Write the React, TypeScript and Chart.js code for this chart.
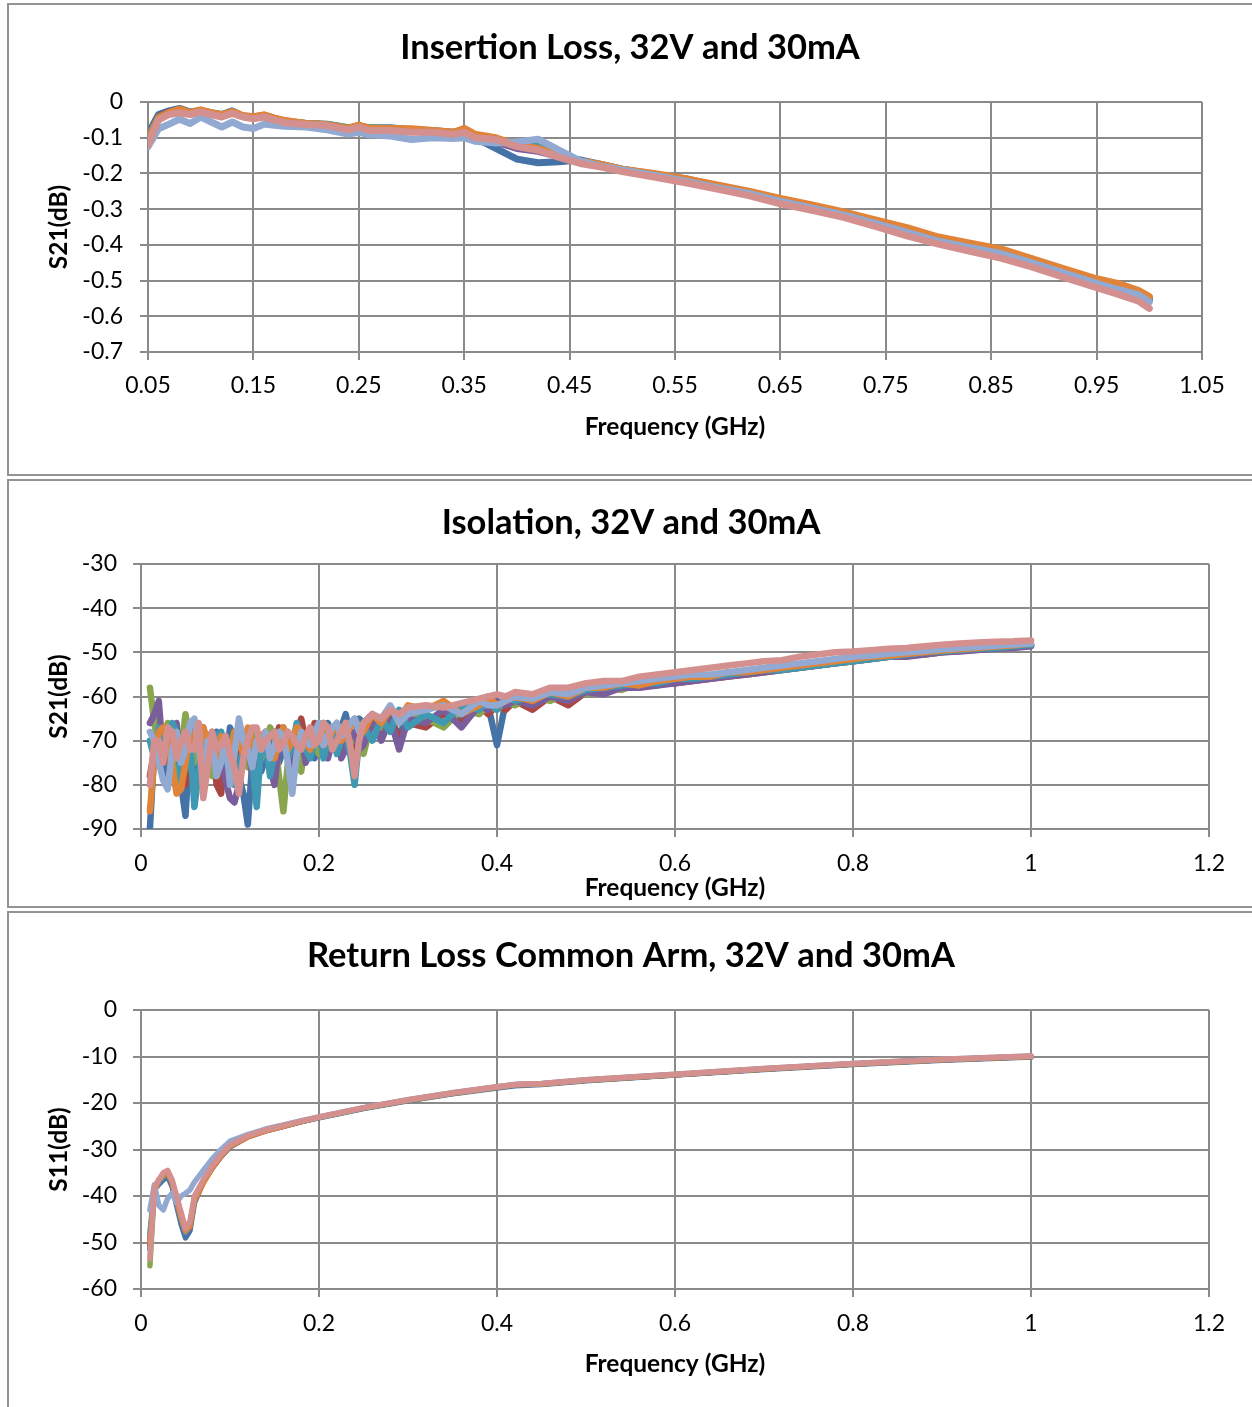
import React, { useEffect, useRef } from "react";
import { Chart, registerables } from "chart.js";

Chart.register(...registerables);

// ---------------- shared ----------------
const FONT_FAMILY = "Lato, 'Open Sans', 'DejaVu Sans', sans-serif";
const SERIES_LABELS = ["Unit 1", "Unit 2", "Unit 3", "Unit 4", "Unit 5", "Unit 6", "Unit 7", "Unit 8"];
const SERIES_COLORS = ["#4572A7", "#AA4643", "#89A54E", "#7A5E9C", "#3F99B3", "#E0843A", "#92A9D1", "#D4908E"];

// ---------------- chart 1: Insertion Loss ----------------
const IL_TITLE = "Insertion Loss, 32V and 30mA";
const IL_Y_TITLE = "S21(dB)";
const IL_X_TITLE = "Frequency (GHz)";
const IL_X_TICKS = [0.05, 0.15, 0.25, 0.35, 0.45, 0.55, 0.65, 0.75, 0.85, 0.95, 1.05];
const IL_X_LABELS = ["0.05", "0.15", "0.25", "0.35", "0.45", "0.55", "0.65", "0.75", "0.85", "0.95", "1.05"];
const IL_Y_TICKS = [-0.7, -0.6, -0.5, -0.4, -0.3, -0.2, -0.1, 0];
const IL_Y_LABELS = ["-0.7", "-0.6", "-0.5", "-0.4", "-0.3", "-0.2", "-0.1", "0"];
const IL_FREQ = [
  0.05, 0.06, 0.07, 0.08, 0.09, 0.1, 0.11, 0.12, 0.13, 0.14, 0.15, 0.16, 0.17, 0.18,
  0.2, 0.22, 0.24, 0.25, 0.26, 0.28, 0.3, 0.32, 0.34, 0.35, 0.36, 0.38,
  0.4, 0.42, 0.44, 0.46, 0.48, 0.5,
  0.53, 0.56, 0.59, 0.62, 0.65, 0.68, 0.71, 0.74, 0.77, 0.8, 0.83, 0.86, 0.89, 0.92, 0.95,
  0.97, 0.99, 1.0,
];
const IL_S1 = [
  -0.09, -0.035, -0.025, -0.018, -0.028, -0.024, -0.03, -0.035, -0.025, -0.04, -0.042, -0.04, -0.05, -0.055,
  -0.06, -0.062, -0.072, -0.068, -0.072, -0.072, -0.078, -0.08, -0.085, -0.08, -0.1, -0.13,
  -0.16, -0.17, -0.167, -0.162, -0.175, -0.188,
  -0.202, -0.215, -0.234, -0.252, -0.272, -0.29, -0.31, -0.334, -0.357, -0.382, -0.4, -0.417, -0.444, -0.472, -0.498,
  -0.515, -0.532, -0.55,
];
const IL_S2 = [
  -0.1, -0.04, -0.028, -0.022, -0.03, -0.024, -0.032, -0.038, -0.028, -0.04, -0.043, -0.038, -0.047, -0.054,
  -0.061, -0.064, -0.074, -0.067, -0.074, -0.075, -0.078, -0.082, -0.086, -0.078, -0.095, -0.11,
  -0.125, -0.135, -0.152, -0.168, -0.178, -0.19,
  -0.203, -0.218, -0.236, -0.254, -0.274, -0.293, -0.313, -0.337, -0.36, -0.385, -0.403, -0.42, -0.447, -0.475, -0.502,
  -0.52, -0.535, -0.552,
];
const IL_S3 = [
  -0.098, -0.042, -0.03, -0.021, -0.031, -0.025, -0.031, -0.037, -0.028, -0.039, -0.042, -0.037, -0.046, -0.053,
  -0.06, -0.063, -0.073, -0.066, -0.073, -0.074, -0.077, -0.081, -0.085, -0.077, -0.094, -0.108,
  -0.122, -0.128, -0.15, -0.166, -0.176, -0.189,
  -0.202, -0.217, -0.235, -0.253, -0.273, -0.292, -0.312, -0.335, -0.358, -0.383, -0.401, -0.418, -0.445, -0.473, -0.5,
  -0.516, -0.533, -0.55,
];
const IL_S4 = [
  -0.1, -0.043, -0.03, -0.023, -0.032, -0.026, -0.033, -0.038, -0.029, -0.04, -0.044, -0.039, -0.047, -0.055,
  -0.062, -0.065, -0.075, -0.068, -0.075, -0.076, -0.079, -0.083, -0.087, -0.08, -0.096, -0.112,
  -0.13, -0.138, -0.153, -0.168, -0.178, -0.191,
  -0.204, -0.219, -0.237, -0.255, -0.275, -0.294, -0.314, -0.338, -0.362, -0.386, -0.404, -0.422, -0.448, -0.477, -0.503,
  -0.52, -0.537, -0.554,
];
const IL_S5 = [
  -0.1, -0.044, -0.031, -0.022, -0.031, -0.025, -0.032, -0.037, -0.028, -0.039, -0.043, -0.038, -0.046, -0.054,
  -0.061, -0.064, -0.074, -0.067, -0.074, -0.075, -0.078, -0.082, -0.086, -0.079, -0.096, -0.11,
  -0.12, -0.12, -0.148, -0.166, -0.177, -0.19,
  -0.203, -0.218, -0.236, -0.254, -0.274, -0.293, -0.313, -0.336, -0.36, -0.384, -0.402, -0.42, -0.446, -0.475, -0.501,
  -0.518, -0.535, -0.552,
];
const IL_S6 = [
  -0.105, -0.045, -0.03, -0.02, -0.03, -0.022, -0.03, -0.036, -0.027, -0.038, -0.041, -0.036, -0.045, -0.052,
  -0.06, -0.064, -0.074, -0.065, -0.074, -0.074, -0.075, -0.08, -0.085, -0.074, -0.09, -0.1,
  -0.12, -0.13, -0.15, -0.165, -0.175, -0.188,
  -0.2, -0.215, -0.232, -0.25, -0.27, -0.288, -0.308, -0.33, -0.352, -0.378, -0.395, -0.412, -0.44, -0.468, -0.495,
  -0.508, -0.528, -0.545,
];
const IL_S7 = [
  -0.125, -0.075, -0.062, -0.048, -0.06, -0.042, -0.056, -0.07, -0.056, -0.07, -0.074, -0.062, -0.065, -0.068,
  -0.07, -0.078, -0.09, -0.085, -0.092, -0.095, -0.105, -0.1, -0.102, -0.1, -0.11, -0.115,
  -0.112, -0.104, -0.135, -0.165, -0.18, -0.19,
  -0.205, -0.222, -0.24, -0.256, -0.278, -0.297, -0.316, -0.34, -0.365, -0.39, -0.408, -0.425, -0.452, -0.48, -0.508,
  -0.525, -0.54, -0.56,
];
const IL_S8 = [
  -0.12, -0.05, -0.035, -0.03, -0.035, -0.028, -0.035, -0.042, -0.032, -0.042, -0.047, -0.042, -0.05, -0.058,
  -0.063, -0.066, -0.078, -0.07, -0.08, -0.08, -0.085, -0.085, -0.09, -0.085, -0.1, -0.105,
  -0.125, -0.135, -0.155, -0.172, -0.182, -0.195,
  -0.21, -0.226, -0.244, -0.262, -0.285, -0.303, -0.323, -0.348, -0.375, -0.398, -0.418, -0.438, -0.463, -0.492, -0.52,
  -0.538, -0.558, -0.578,
];

// ---------------- chart 2: Isolation ----------------
const ISO_TITLE = "Isolation, 32V and 30mA";
const ISO_Y_TITLE = "S21(dB)";
const ISO_X_TITLE = "Frequency (GHz)";
const ISO_X_TICKS = [0, 0.2, 0.4, 0.6, 0.8, 1, 1.2];
const ISO_X_LABELS = ["0", "0.2", "0.4", "0.6", "0.8", "1", "1.2"];
const ISO_Y_TICKS = [-90, -80, -70, -60, -50, -40, -30];
const ISO_Y_LABELS = ["-90", "-80", "-70", "-60", "-50", "-40", "-30"];
const ISO_FREQ = [
  0.01, 0.015, 0.02, 0.025, 0.03, 0.035, 0.04, 0.045, 0.05, 0.055,
  0.06, 0.065, 0.07, 0.075, 0.08, 0.085, 0.09, 0.095, 0.1, 0.105,
  0.11, 0.115, 0.12, 0.125, 0.13, 0.135, 0.14, 0.145, 0.15, 0.155,
  0.16, 0.165, 0.17, 0.175, 0.18, 0.185, 0.19, 0.195, 0.2, 0.205,
  0.21, 0.215, 0.22, 0.225, 0.23, 0.235, 0.24, 0.245, 0.25,
  0.26, 0.27, 0.28, 0.29, 0.3,
  0.32, 0.34, 0.36, 0.38, 0.39, 0.4, 0.41,
  0.42, 0.44, 0.46, 0.48, 0.5, 0.52, 0.54, 0.56, 0.58, 0.6, 0.62, 0.64, 0.66, 0.68, 0.7,
  0.72, 0.74, 0.76, 0.78, 0.8, 0.82, 0.84, 0.86, 0.88, 0.9, 0.92, 0.94, 0.96, 0.98, 1.0,
];
const ISO_S1 = [
  -90, -72, -66, -78, -70, -68, -76, -80, -87, -70,
  -72, -78, -68, -72, -75, -68, -72, -76, -67, -70,
  -78, -82, -89, -75, -70, -77, -74, -71, -68, -75,
  -72, -68, -70, -73, -74, -70, -68, -74, -71, -69,
  -66, -72, -69, -67, -64, -69, -70, -65, -66,
  -64, -67, -65, -69, -64,
  -66, -63, -65, -61, -62, -71, -61,
  -60, -62, -59, -60, -58, -58.5, -57.5, -57, -56.5, -57, -55.5, -55.5, -55, -54.5, -54,
  -53.5, -53, -52.5, -52, -51.5, -51, -51, -50.5, -50, -49.8, -49.5, -49.2, -49, -48.7, -48.5,
];
const ISO_S2 = [
  -78, -72, -68, -70, -74, -77, -70, -72, -80, -76,
  -73, -69, -67, -75, -70, -80, -82, -70, -72, -78,
  -74, -68, -70, -73, -78, -71, -68, -75, -72, -67,
  -70, -72, -74, -69, -65, -70, -72, -66, -68, -71,
  -70, -69, -67, -73, -71, -68, -75, -70, -68,
  -66, -69, -64, -70, -66,
  -67, -64, -66, -62, -64, -62, -63,
  -61, -63, -60, -62, -59, -59, -58, -58, -57, -57, -56.5, -56, -55.5, -55, -54.5,
  -54, -53.5, -53, -52.5, -52, -51.5, -51, -50.8, -50.5, -50, -49.7, -49.4, -49.1, -48.8, -48.5,
];
const ISO_S3 = [
  -58, -66, -72, -70, -66, -74, -80, -72, -64, -70,
  -75, -68, -70, -74, -78, -72, -68, -77, -72, -68,
  -70, -73, -76, -70, -68, -74, -72, -67, -69, -78,
  -86, -75, -70, -72, -77, -70, -69, -71, -73, -66,
  -68, -72, -71, -68, -66, -69, -70, -68, -73,
  -65, -67, -63, -66, -64,
  -65, -67, -63, -64, -62, -63, -61,
  -62, -60, -61, -59, -59.5, -58, -58.5, -57, -57.5, -56.5, -56, -56, -55, -55, -54.5,
  -54, -53.5, -53, -52.5, -52, -51.5, -51, -50.5, -50.5, -50, -49.5, -49.3, -49, -48.8, -48.4,
];
const ISO_S4 = [
  -66, -64, -61, -74, -69, -70, -66, -78, -73, -69,
  -67, -72, -77, -70, -68, -75, -72, -79, -83, -84,
  -80, -74, -70, -78, -74, -72, -69, -76, -80, -71,
  -70, -73, -76, -70, -68, -75, -72, -69, -70, -72,
  -74, -70, -67, -74, -72, -69, -68, -72, -71,
  -66, -70, -65, -72, -65,
  -66, -63, -67, -62, -63, -61, -62,
  -61, -62, -60, -61, -59, -59.5, -58, -58, -57.5, -57, -56.5, -56, -55.5, -55, -54.5,
  -54, -53.5, -53, -52.5, -52, -51.5, -51, -51, -50.5, -50, -49.8, -49.5, -49.2, -49, -48.6,
];
const ISO_S5 = [
  -70, -74, -67, -69, -72, -66, -68, -79, -76, -70,
  -85, -77, -70, -72, -74, -69, -68, -75, -71, -80,
  -76, -72, -69, -75, -85, -71, -70, -78, -73, -69,
  -67, -74, -71, -66, -69, -72, -74, -70, -66, -74,
  -70, -67, -73, -70, -68, -73, -80, -70, -67,
  -70, -65, -68, -63, -67,
  -64, -66, -62, -63, -61, -63, -60,
  -61, -60, -59.5, -60, -58.5, -58, -57.5, -57, -57, -56, -56, -55.5, -55, -54.5, -54,
  -54, -53.5, -53, -52.5, -52, -51.5, -51, -50.5, -50, -49.8, -49.5, -49.2, -49, -48.6, -48.3,
];
const ISO_S6 = [
  -86, -74, -68, -67, -70, -76, -82, -81, -75, -68,
  -70, -72, -67, -70, -72, -76, -69, -71, -74, -68,
  -70, -73, -67, -71, -72, -69, -68, -73, -74, -70,
  -67, -72, -70, -67, -68, -70, -72, -69, -67, -71,
  -70, -68, -66, -70, -69, -67, -65, -67, -68,
  -64, -66, -63, -65, -62,
  -63, -61, -64, -62, -60, -62, -61,
  -60, -61, -59, -60, -58, -58, -57, -57.5, -56.5, -56, -55.5, -55.5, -54.5, -54.5, -54,
  -53.5, -53, -52.5, -52, -51.5, -51, -50.8, -50.3, -50, -49.6, -49.3, -49, -48.7, -48.4, -48,
];
const ISO_S7 = [
  -68, -70, -75, -79, -81, -72, -68, -75, -72, -66,
  -65, -72, -78, -70, -70, -78, -75, -69, -80, -73,
  -65, -70, -72, -76, -70, -72, -68, -74, -71, -68,
  -69, -75, -82, -73, -68, -70, -71, -68, -66, -71,
  -69, -67, -66, -69, -68, -66, -65, -68, -66,
  -64, -65, -62, -66, -64,
  -63, -62, -64, -61, -62, -62, -61,
  -60, -60.5, -59, -59.5, -58, -57.5, -57, -56.5, -56, -55.5, -55, -55, -54.5, -54, -53.5,
  -53, -52.5, -52, -51.5, -51, -50.7, -50.3, -50, -49.7, -49.3, -49, -48.8, -48.5, -48.2, -48,
];
const ISO_S8 = [
  -80, -70, -70, -75, -67, -68, -74, -70, -68, -72,
  -72, -66, -83, -76, -68, -72, -71, -69, -73, -76,
  -82, -74, -70, -67, -67, -72, -70, -69, -68, -72,
  -71, -68, -69, -71, -72, -69, -67, -71, -70, -66,
  -67, -72, -70, -68, -66, -71, -78, -70, -66,
  -64, -65, -63, -64, -62.5,
  -62, -62.5, -61.5, -60.5, -60, -59.5, -60,
  -59, -59.5, -58, -58, -57, -56.5, -56.5, -55.5, -55, -54.5, -54, -53.5, -53, -52.5, -52,
  -51.8, -51, -50.5, -50, -49.8, -49.5, -49.2, -49, -48.6, -48.3, -48, -47.8, -47.6, -47.5, -47.3,
];

// ---------------- chart 3: Return Loss ----------------
const RL_TITLE = "Return Loss Common Arm, 32V and 30mA";
const RL_Y_TITLE = "S11(dB)";
const RL_X_TITLE = "Frequency (GHz)";
const RL_X_TICKS = [0, 0.2, 0.4, 0.6, 0.8, 1, 1.2];
const RL_X_LABELS = ["0", "0.2", "0.4", "0.6", "0.8", "1", "1.2"];
const RL_Y_TICKS = [-60, -50, -40, -30, -20, -10, 0];
const RL_Y_LABELS = ["-60", "-50", "-40", "-30", "-20", "-10", "0"];
const RL_FREQ = [
  0.01, 0.015, 0.02, 0.025, 0.03, 0.035, 0.04, 0.045, 0.05, 0.055, 0.06,
  0.07, 0.08, 0.09, 0.1, 0.12, 0.14, 0.16, 0.18, 0.2,
  0.25, 0.3, 0.35, 0.4, 0.42, 0.45, 0.5, 0.6, 0.7, 0.8, 0.9, 1.0,
];
const RL_S1 = [-51.5, -38.5, -37.5, -36.5, -35.8, -38, -42, -46, -49, -47.5, -41.5, -37, -34, -31.5, -29.5, -27.3, -26, -25, -24, -23.2, -21.2, -19.5, -18, -16.8, -16.3, -16, -15.2, -14, -12.8, -11.7, -10.8, -10.1];
const RL_S2 = [-50.5, -38.5, -36.8, -35.6, -35, -37, -40.5, -44, -47, -46, -40.8, -36.8, -33.8, -31.2, -29.2, -27.1, -25.9, -24.9, -24, -23.1, -21.1, -19.4, -17.9, -16.6, -16.1, -15.9, -15.1, -13.9, -12.7, -11.6, -10.7, -10];
const RL_S3 = [-55, -38.5, -37, -36, -35.2, -37, -41, -45, -47.5, -46.2, -40.5, -36.8, -33.8, -31.2, -29.2, -27.2, -25.9, -24.9, -24, -23.1, -21.1, -19.4, -17.9, -16.6, -16.1, -15.9, -15.1, -13.9, -12.7, -11.6, -10.7, -10];
const RL_S4 = [-49, -38.8, -37.2, -36, -35.4, -37.4, -41.2, -45.2, -48, -46.8, -41, -37, -34, -31.4, -29.3, -27.2, -26, -25, -24, -23.1, -21.1, -19.4, -17.9, -16.6, -16.1, -15.9, -15.1, -13.9, -12.7, -11.6, -10.7, -10];
const RL_S5 = [-48, -38.6, -37, -35.8, -35.2, -37.2, -41, -45, -47.8, -46.5, -40.8, -36.9, -33.9, -31.3, -29.2, -27.2, -25.9, -24.9, -24, -23.1, -21.1, -19.4, -17.9, -16.6, -16.1, -15.9, -15.1, -13.9, -12.7, -11.6, -10.7, -10];
const RL_S6 = [-50, -39, -36.5, -35.5, -35, -37, -41, -44.5, -47.5, -46.5, -41, -37.2, -34, -31.4, -29.3, -27.3, -26, -25, -24, -23.1, -21.1, -19.4, -17.9, -16.6, -16.1, -15.9, -15.1, -13.9, -12.7, -11.6, -10.7, -10];
const RL_S7 = [-43, -37.6, -42, -43, -40.5, -39.4, -41.5, -40, -39.4, -38.7, -37, -34.5, -32, -30, -28.2, -26.8, -25.6, -24.7, -23.8, -23, -21, -19.3, -17.8, -16.5, -16, -15.8, -15, -13.8, -12.6, -11.5, -10.6, -9.9];
const RL_S8 = [-53.5, -38, -36.5, -35, -34.5, -36.5, -40, -43.5, -47, -45.5, -40, -36.5, -33.5, -31, -29, -27, -25.8, -24.8, -23.9, -23, -21, -19.3, -17.8, -16.5, -16, -15.8, -15, -13.8, -12.6, -11.5, -10.6, -9.9];

// ---------------- layout / style ----------------
const PAGE_W = 1252;
const TICK_LEN = 8;
const GRID_COLOR = "#8a8a8a";
const TITLE_SIZE = 34.5;
const AXIS_TITLE_SIZE = 24.5;
const TICK_SIZE = 23;
const LH = 1.2;

type Spec = {
  top: number;
  height: number;
  area: { left: number; right: number; top: number; bottom: number };
  titleCX: number;
  titleCY: number;
  xTitleCY: number;
  yTitleCX: number;
  xLabelCY: number;
  yLabelRight: number;
  lineWidth: number;
  title: string;
  xTitle: string;
  yTitle: string;
  freq: number[];
  series: number[][];
  xMin: number;
  xMax: number;
  xTicks: number[];
  xLabels: string[];
  yMin: number;
  yMax: number;
  yTicks: number[];
  yLabels: string[];
};

function buildConfig(s: Spec): any {
  const titleLH = TITLE_SIZE * LH;
  const axisLH = AXIS_TITLE_SIZE * LH;
  const tickLH = TICK_SIZE * LH;
  const padRight = PAGE_W - s.area.right;
  const padLeft = 2 * s.titleCX - s.area.right;
  const yAxisWidth = s.area.left - padLeft;
  const xAxisHeight = s.height - s.area.bottom;
  const titlePadTop = s.titleCY - titleLH / 2;
  const titlePadBottom = s.area.top - titlePadTop - titleLH;
  const yTitlePad = s.yTitleCX - padLeft - axisLH / 2;
  const xTitlePad = s.height - axisLH / 2 - s.xTitleCY;
  const xTickPad = s.xLabelCY - s.area.bottom - TICK_LEN - tickLH / 2;
  const yTickPad = s.area.left - TICK_LEN - s.yLabelRight;

  const gridOpts = {
    color: GRID_COLOR,
    lineWidth: 2,
    drawTicks: true,
    tickLength: TICK_LEN,
    tickColor: GRID_COLOR,
    tickWidth: 2,
  };

  return {
    type: "line",
    data: {
      datasets: s.series.map((vals, i) => ({
        label: SERIES_LABELS[i],
        data: s.freq.map((f, j) => ({ x: f, y: vals[j] })),
        borderColor: SERIES_COLORS[i],
        backgroundColor: SERIES_COLORS[i],
        borderWidth: s.lineWidth,
        pointRadius: 0,
        pointHoverRadius: 0,
        tension: 0,
        fill: false,
        borderJoinStyle: "round",
        borderCapStyle: "round",
        order: s.series.length - 1 - i,
      })),
    },
    options: {
      animation: false,
      responsive: false,
      maintainAspectRatio: false,
      events: [],
      layout: { padding: { left: padLeft, right: padRight, top: 0, bottom: 0 } },
      plugins: {
        legend: { display: false },
        tooltip: { enabled: false },
        title: {
          display: true,
          text: s.title,
          color: "#000000",
          font: { family: FONT_FAMILY, size: TITLE_SIZE, weight: "bold", lineHeight: LH },
          padding: { top: titlePadTop, bottom: titlePadBottom },
        },
      },
      scales: {
        x: {
          type: "linear",
          min: s.xMin,
          max: s.xMax,
          afterBuildTicks: (scale: any) => {
            scale.ticks = s.xTicks.map((v) => ({ value: v }));
          },
          afterFit: (scale: any) => {
            scale.height = xAxisHeight;
          },
          ticks: {
            autoSkip: false,
            maxRotation: 0,
            minRotation: 0,
            padding: xTickPad,
            color: "#000000",
            font: { family: FONT_FAMILY, size: TICK_SIZE, lineHeight: LH },
            callback: (_v: any, i: number) => s.xLabels[i],
          },
          grid: gridOpts,
          border: { display: true, color: GRID_COLOR, width: 2 },
          title: {
            display: true,
            text: s.xTitle,
            color: "#000000",
            font: { family: FONT_FAMILY, size: AXIS_TITLE_SIZE, weight: "bold", lineHeight: LH },
            padding: { top: 0, bottom: xTitlePad },
          },
        },
        y: {
          type: "linear",
          min: s.yMin,
          max: s.yMax,
          afterBuildTicks: (scale: any) => {
            scale.ticks = s.yTicks.map((v) => ({ value: v }));
          },
          afterFit: (scale: any) => {
            scale.width = yAxisWidth;
          },
          ticks: {
            autoSkip: false,
            padding: yTickPad,
            color: "#000000",
            font: { family: FONT_FAMILY, size: TICK_SIZE, lineHeight: LH },
            callback: (_v: any, i: number) => s.yLabels[i],
          },
          grid: gridOpts,
          border: { display: true, color: GRID_COLOR, width: 2 },
          title: {
            display: true,
            text: s.yTitle,
            color: "#000000",
            font: { family: FONT_FAMILY, size: AXIS_TITLE_SIZE, weight: "bold", lineHeight: LH },
            padding: { top: yTitlePad, bottom: 0 },
          },
        },
      },
    },
  };
}

const SPECS: Spec[] = [
  {
    top: 0,
    height: 478,
    area: { left: 148, right: 1202, top: 102, bottom: 352 },
    titleCX: 630,
    titleCY: 48,
    xTitleCY: 427,
    yTitleCX: 59,
    xLabelCY: 386,
    yLabelRight: 123,
    lineWidth: 7,
    title: IL_TITLE,
    xTitle: IL_X_TITLE,
    yTitle: IL_Y_TITLE,
    freq: IL_FREQ,
    series: [IL_S1, IL_S2, IL_S3, IL_S4, IL_S5, IL_S6, IL_S7, IL_S8],
    xMin: 0.05,
    xMax: 1.05,
    xTicks: IL_X_TICKS,
    xLabels: IL_X_LABELS,
    yMin: -0.7,
    yMax: 0,
    yTicks: IL_Y_TICKS,
    yLabels: IL_Y_LABELS,
  },
  {
    top: 478,
    height: 432,
    area: { left: 141, right: 1209, top: 86, bottom: 351 },
    titleCX: 631,
    titleCY: 45,
    xTitleCY: 410,
    yTitleCX: 59,
    xLabelCY: 386,
    yLabelRight: 117,
    lineWidth: 6.5,
    title: ISO_TITLE,
    xTitle: ISO_X_TITLE,
    yTitle: ISO_Y_TITLE,
    freq: ISO_FREQ,
    series: [ISO_S1, ISO_S2, ISO_S3, ISO_S4, ISO_S5, ISO_S6, ISO_S7, ISO_S8],
    xMin: 0,
    xMax: 1.2,
    xTicks: ISO_X_TICKS,
    xLabels: ISO_X_LABELS,
    yMin: -90,
    yMax: -30,
    yTicks: ISO_Y_TICKS,
    yLabels: ISO_Y_LABELS,
  },
  {
    top: 909,
    height: 498,
    area: { left: 141, right: 1209, top: 101, bottom: 380 },
    titleCX: 631,
    titleCY: 47,
    xTitleCY: 455,
    yTitleCX: 59,
    xLabelCY: 415,
    yLabelRight: 117,
    lineWidth: 5.5,
    title: RL_TITLE,
    xTitle: RL_X_TITLE,
    yTitle: RL_Y_TITLE,
    freq: RL_FREQ,
    series: [RL_S1, RL_S2, RL_S3, RL_S4, RL_S5, RL_S6, RL_S7, RL_S8],
    xMin: 0,
    xMax: 1.2,
    xTicks: RL_X_TICKS,
    xLabels: RL_X_LABELS,
    yMin: -60,
    yMax: 0,
    yTicks: RL_Y_TICKS,
    yLabels: RL_Y_LABELS,
  },
];

const BOXES = [
  { top: 3, height: 473 },
  { top: 479, height: 429 },
  { top: 911, height: 520 },
];

function ChartCanvas({ spec }: { spec: Spec }) {
  const ref = useRef<HTMLCanvasElement | null>(null);
  useEffect(() => {
    if (!ref.current) return;
    const chart = new Chart(ref.current, buildConfig(spec));
    return () => chart.destroy();
  }, [spec]);
  return (
    <canvas
      ref={ref}
      width={PAGE_W}
      height={spec.height}
      style={{ position: "absolute", left: 0, top: spec.top, width: PAGE_W, height: spec.height }}
    />
  );
}

export default function App() {
  return (
    <div
      style={{
        position: "absolute",
        left: 0,
        top: 0,
        width: PAGE_W,
        height: 1407,
        overflow: "hidden",
        background: "#ffffff",
      }}
    >
      {BOXES.map((b, i) => (
        <div
          key={i}
          style={{
            position: "absolute",
            left: 7,
            top: b.top,
            width: 1300,
            height: b.height,
            border: "2px solid #939393",
            boxSizing: "border-box",
          }}
        />
      ))}
      {SPECS.map((s, i) => (
        <ChartCanvas key={i} spec={s} />
      ))}
    </div>
  );
}
